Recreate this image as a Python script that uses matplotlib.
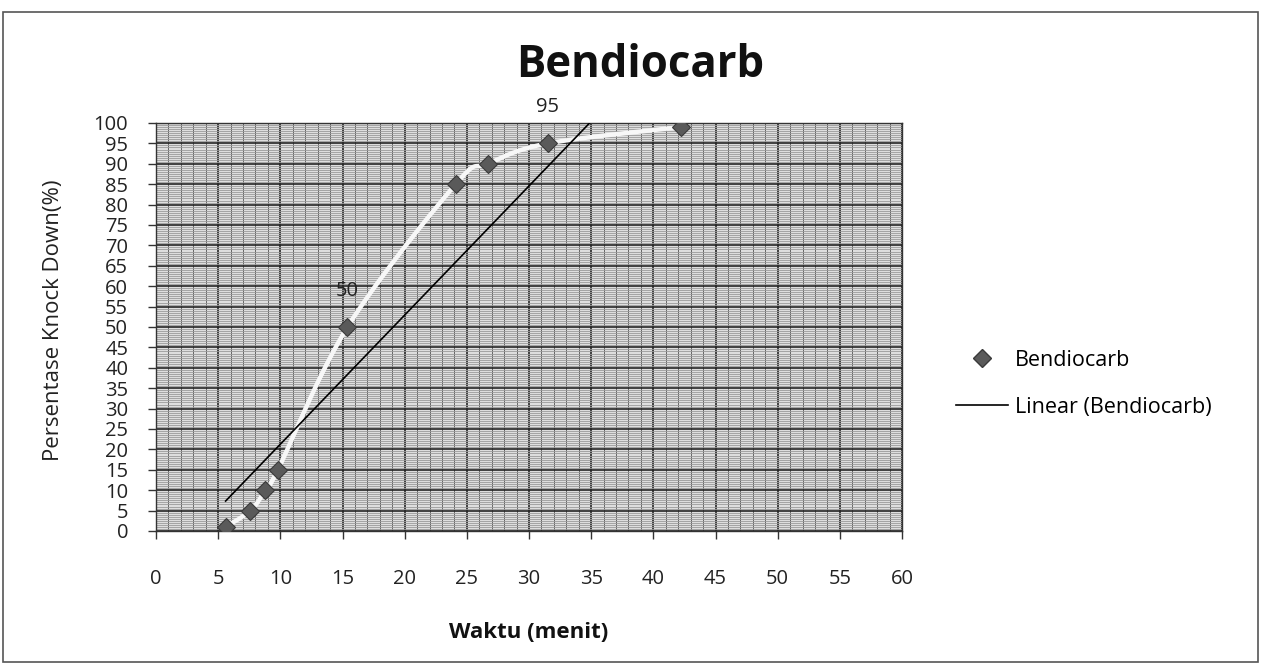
import numpy as np
import matplotlib
matplotlib.use("Agg")
import matplotlib.pyplot as plt
from matplotlib.patches import Rectangle
from matplotlib.ticker import MultipleLocator

# ---- data ----
waktu = [5.6, 7.6, 8.8, 9.8, 15.4, 24.1, 26.7, 31.5, 42.2]
knockdown = [1, 5, 10, 15, 50, 85, 90, 95, 99]
x_ticks = list(range(0, 61, 5))
y_ticks = list(range(0, 101, 5))
annotated_values = [50, 95]
title = "Bendiocarb"
series_label = "Bendiocarb"
trend_label = "Linear (Bendiocarb)"
x_label = "Waktu (menit)"
y_label = "Persentase Knock Down(%)"

plt.rcParams['font.family'] = ['Open Sans', 'DejaVu Sans']

W, H = 1262, 669
fig = plt.figure(figsize=(W / 100, H / 100), dpi=100)

# plot area in pixels
L, R, T, B = 156, 902, 123, 531
ax = fig.add_axes([L / W, 1 - B / H, (R - L) / W, (B - T) / H])
ax.set_xlim(0, 60)
ax.set_ylim(0, 100)
ax.set_facecolor('#dedede')

ax.set_xticks(x_ticks)
ax.set_yticks(y_ticks)
ax.xaxis.set_minor_locator(MultipleLocator(1))
ax.yaxis.set_minor_locator(MultipleLocator(0.5))
ax.grid(which='minor', axis='y', color='#9a9a9a', lw=0.6)
ax.grid(which='minor', axis='x', color='#666666', lw=0.7)
ax.grid(which='major', color='#252525', lw=1.2)
ax.set_axisbelow(True)
ax.tick_params(which='minor', length=0)
ax.tick_params(which='major', length=6, width=1, color='#333333', labelsize=14.5,
               labelcolor='#222222', direction='out')
ax.tick_params(axis='y', pad=14)
ax.tick_params(axis='x', pad=21)
for s in ax.spines.values():
    s.set_color('#333333')
    s.set_linewidth(1)

# smoothed white connecting line (Catmull-Rom through the data points)
px = np.array(waktu, dtype=float)
py = np.array(knockdown, dtype=float)
P = np.column_stack([px, py])
Pext = np.vstack([P[0], P, P[-1]])
curve = []
for i in range(1, len(Pext) - 2):
    p0, p1, p2, p3 = Pext[i - 1], Pext[i], Pext[i + 1], Pext[i + 2]
    t = np.linspace(0, 1, 30)[:, None]
    seg = 0.5 * ((2 * p1) + (-p0 + p2) * t + (2 * p0 - 5 * p1 + 4 * p2 - p3) * t ** 2
                 + (-p0 + 3 * p1 - 3 * p2 + p3) * t ** 3)
    curve.append(seg)
curve = np.vstack(curve)
ax.plot(curve[:, 0], curve[:, 1], color='#f7f7f7', lw=3.2, solid_capstyle='round', zorder=3)

# markers
pts, = ax.plot(waktu, knockdown, linestyle='none', marker='D', markersize=9,
               markerfacecolor='#5a5a5a', markeredgecolor='#3a3a3a', markeredgewidth=0.8,
               zorder=5)

# linear trendline
coef = np.polyfit(waktu, knockdown, 1)
xs = np.linspace(min(waktu), max(waktu), 300)
trend, = ax.plot(xs, np.polyval(coef, xs), color='black', lw=1.2, zorder=4)

# data labels
for xv, yv in zip(waktu, knockdown):
    if yv in annotated_values:
        ax.annotate(str(yv), (xv, yv), xytext=(0, 26), textcoords='offset points',
                    ha='center', va='center', fontsize=14.5, color='#222222',
                    annotation_clip=False)

# axis labels
ax.set_xlabel(x_label, fontsize=16, fontweight='bold', color='#111111')
ax.xaxis.set_label_coords(0.5, -(632 - B) / (B - T))
ax.xaxis.label.set_va('center')
ax.set_ylabel(y_label, fontsize=16, color='#222222')
ax.yaxis.set_label_coords(-(L - 54) / (R - L), (B - 320) / (B - T))
ax.yaxis.label.set_va('center')

# title
fig.text(640 / W, 1 - 77 / H, title, ha='center', va='baseline', fontsize=31.5,
         fontweight='bold', color='#111111')

# legend
proxy_marker, = ax.plot([], [], linestyle='-', color='white', lw=3, marker='D',
                        markersize=9, markerfacecolor='#5a5a5a',
                        markeredgecolor='#3a3a3a')
fig.legend([proxy_marker, trend], [series_label, trend_label], loc='upper left',
           bbox_to_anchor=(956 / W, 1 - 350 / H), frameon=False, fontsize=15.5,
           handlelength=2.4, handletextpad=0.35, labelspacing=1.2,
           borderpad=0, borderaxespad=0)

# outer chart border
fig.add_artist(Rectangle((3 / W, 1 - 662 / H), 1255 / W, 650 / H,
                         transform=fig.transFigure, fill=False,
                         edgecolor='#555555', lw=1.2))

fig.savefig('out.png', dpi=100)
